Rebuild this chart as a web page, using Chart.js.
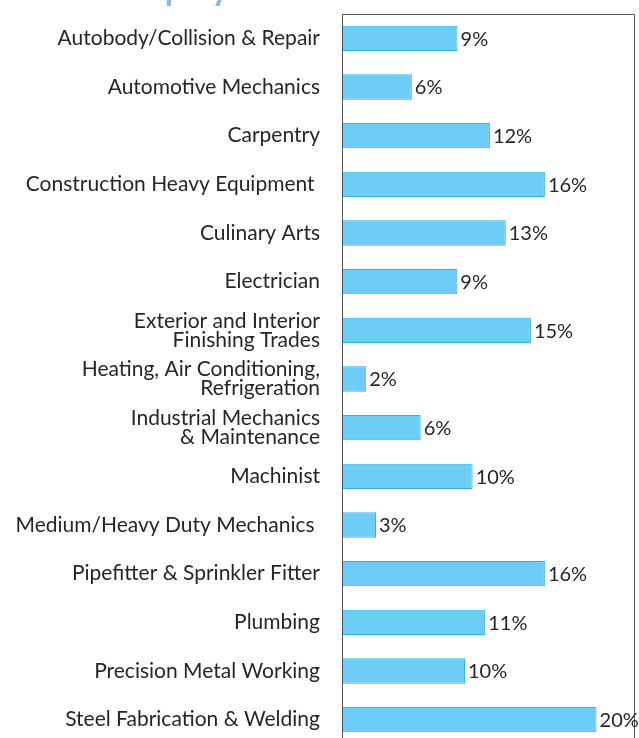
<!DOCTYPE html>
<html>
<head>
<meta charset="utf-8">
<script src="https://cdn.jsdelivr.net/npm/chart.js@4/dist/chart.umd.min.js"></script>
<style>
  html, body { margin: 0; padding: 0; background: #ffffff; overflow: hidden; }
  #wrap { position: relative; width: 639px; height: 738px; overflow: hidden; }
  canvas { display: block; }
</style>
</head>
<body>
<div id="wrap"><canvas id="c" width="639" height="744"></canvas></div>
<script>
const titleText = "Employment";
const categories = [
  "Autobody/Collision & Repair",
  "Automotive Mechanics",
  "Carpentry",
  "Construction Heavy Equipment ",
  "Culinary Arts",
  "Electrician",
  ["Exterior and Interior", "Finishing Trades"],
  ["Heating, Air Conditioning,", "Refrigeration"],
  ["Industrial Mechanics", "& Maintenance"],
  "Machinist",
  "Medium/Heavy Duty Mechanics ",
  "Pipefitter & Sprinkler Fitter",
  "Plumbing",
  "Precision Metal Working",
  "Steel Fabrication & Welding"
];
const values = [9.1, 5.5, 11.65, 15.98, 12.9, 9.08, 14.88, 1.91, 6.2, 10.29, 2.68, 15.98, 11.28, 9.69, 20.05];
const valueLabels = ["9%", "6%", "12%", "16%", "13%", "9%", "15%", "2%", "6%", "10%", "3%", "16%", "11%", "10%", "20%"];
const axisMin = 0;
const axisMax = 23;

const FONT = "Lato, 'Open Sans', sans-serif";

const framePlugin = {
  id: 'frame',
  afterDatasetsDraw(chart) {
    const { ctx, chartArea: a } = chart;
    ctx.save();
    ctx.strokeStyle = '#555555';
    ctx.lineWidth = 1;
    ctx.beginPath();
    ctx.moveTo(Math.round(a.left) + 0.5, a.bottom + 5);
    ctx.lineTo(Math.round(a.left) + 0.5, Math.round(a.top) + 0.5);
    ctx.lineTo(Math.round(a.right) + 0.5, Math.round(a.top) + 0.5);
    ctx.lineTo(Math.round(a.right) + 0.5, a.bottom + 5);
    ctx.stroke();
    // value labels
    const meta = chart.getDatasetMeta(0);
    ctx.fillStyle = '#262626';
    ctx.font = '20px ' + FONT;
    ctx.textAlign = 'left';
    ctx.textBaseline = 'middle';
    meta.data.forEach((bar, i) => {
      ctx.fillText(valueLabels[i], bar.x + 3, bar.y + 1);
    });
    // cut-off heading (only descenders visible at the top edge)
    ctx.fillStyle = '#8DB6E4';
    ctx.font = 'bold 34px ' + FONT;
    ctx.textBaseline = 'alphabetic';
    ctx.fillText(titleText, 117, 0);
    ctx.restore();
  }
};

new Chart(document.getElementById('c'), {
  type: 'bar',
  data: {
    labels: categories,
    datasets: [{
      data: values,
      backgroundColor: '#6DCDF7',
      borderColor: '#2FB4E6',
      borderWidth: 1,
      borderSkipped: 'left',
      barPercentage: 0.52,
      categoryPercentage: 1.0
    }]
  },
  options: {
    indexAxis: 'y',
    responsive: false,
    animation: false,
    layout: { padding: { top: 14, right: 5, bottom: 0, left: 0 } },
    plugins: { legend: { display: false }, tooltip: { enabled: false }, title: { display: false } },
    scales: {
      x: {
        display: false,
        min: axisMin,
        max: axisMax
      },
      y: {
        grid: { display: false, drawTicks: false },
        border: { display: false },
        afterFit(scale) {
          scale.width = 342;
          scale.paddingTop = 0;
          scale.paddingBottom = 0;
        },
        ticks: {
          color: '#262626',
          padding: 22,
          autoSkip: false,
          font: { family: FONT, size: 21, lineHeight: 0.9 }
        }
      }
    }
  },
  plugins: [framePlugin]
});
</script>
</body>
</html>
